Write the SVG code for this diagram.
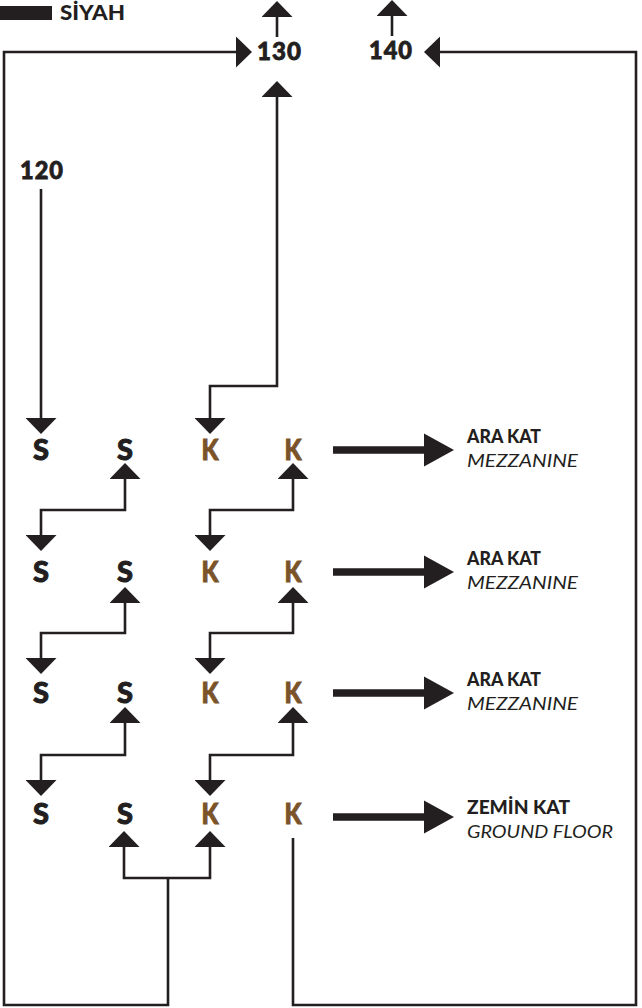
<svg xmlns="http://www.w3.org/2000/svg" xmlns:xlink="http://www.w3.org/1999/xlink" width="642" height="1008" viewBox="0 0 642 1008">
  <style>
    .ln { fill: none; stroke: #231f20; stroke-width: 2.6; stroke-linejoin: miter; }
    .num { font-family: Lato, "Open Sans", sans-serif; font-weight: 900; font-size: 24px; letter-spacing: 1px; fill: #231f20; stroke: #231f20; stroke-width: 0.8; }
    .s { font-family: Lato, "Open Sans", sans-serif; font-weight: 900; font-size: 28px; fill: #231f20; stroke: #231f20; stroke-width: 0.9; text-anchor: middle; }
    .k { font-family: Lato, "Open Sans", sans-serif; font-weight: 900; font-size: 28px; fill: #7b5329; stroke: #7b5329; stroke-width: 0.9; text-anchor: middle; }
    .tr { font-family: Lato, "Open Sans", sans-serif; font-weight: 900; font-size: 18px; fill: #231f20; }
    .en { font-family: Lato, "Open Sans", sans-serif; font-weight: 400; font-style: italic; font-size: 18px; fill: #231f20; }
  </style>
  <defs>
    <!-- small solid arrowhead, placed at the end of a line (base on the line end) -->
    <marker id="head" viewBox="0 0 16 31" refX="0" refY="15.5" markerWidth="16" markerHeight="31" markerUnits="userSpaceOnUse" orient="auto-start-reverse">
      <path d="M0,0 L16,15.5 L0,31 Z" fill="#231f20"/>
    </marker>
    <!-- thick level arrow -->
    <path id="bigArrow" d="M0,-3.8 H91 V-16.5 L121,0 L91,16.5 V3.8 H0 Z" fill="#231f20"/>
  </defs>

  <!-- legend -->
  <g id="legend">
    <rect x="0" y="6" width="52" height="14" fill="#231f20"/>
    <text x="60" y="20" class="tr" style="font-size:20px" textLength="65" lengthAdjust="spacingAndGlyphs">SİYAH</text>
  </g>

  <!-- connectors -->
  <g id="connectors">
    <!-- outer loops -->
    <path class="ln" d="M168,878 V1005 H4 V52 H236" marker-end="url(#head)"/>
    <path class="ln" d="M124,847 V878 H210 V847" marker-start="url(#head)" marker-end="url(#head)"/>
    <path class="ln" d="M293,838 V1005 H636 V52 H440" marker-end="url(#head)"/>
    <!-- exits above 130 / 140 -->
    <path class="ln" d="M277,37 V17" marker-end="url(#head)"/>
    <path class="ln" d="M392,36 V16" marker-end="url(#head)"/>
    <!-- 130 to top K -->
    <path class="ln" d="M277,97 V386 H210 V418" marker-start="url(#head)" marker-end="url(#head)"/>
    <!-- 120 to top S -->
    <path class="ln" d="M41,189 V418" marker-end="url(#head)"/>
    <!-- between levels -->
    <path class="ln" d="M125,479 V510 H41 V535" marker-start="url(#head)" marker-end="url(#head)"/>
    <path class="ln" d="M293,479 V510 H210 V535" marker-start="url(#head)" marker-end="url(#head)"/>
    <path class="ln" d="M125,603 V633 H41 V658" marker-start="url(#head)" marker-end="url(#head)"/>
    <path class="ln" d="M293,603 V633 H210 V658" marker-start="url(#head)" marker-end="url(#head)"/>
    <path class="ln" d="M125,723 V755 H41 V780" marker-start="url(#head)" marker-end="url(#head)"/>
    <path class="ln" d="M293,723 V755 H210 V780" marker-start="url(#head)" marker-end="url(#head)"/>
    <!-- level arrows -->
    <use xlink:href="#bigArrow" x="333" y="450"/>
    <use xlink:href="#bigArrow" x="333" y="572"/>
    <use xlink:href="#bigArrow" x="333" y="693"/>
    <use xlink:href="#bigArrow" x="333" y="817"/>
  </g>

  <!-- numbered exits -->
  <g id="n120"><text x="20" y="179" class="num" textLength="44" lengthAdjust="spacingAndGlyphs">120</text></g>
  <g id="n130"><text x="257" y="60" class="num" textLength="45" lengthAdjust="spacingAndGlyphs">130</text></g>
  <g id="n140"><text x="369" y="59" class="num" textLength="44" lengthAdjust="spacingAndGlyphs">140</text></g>

  <!-- level 1 -->
  <g id="row1">
    <text x="41" y="460" class="s" textLength="16" lengthAdjust="spacingAndGlyphs">S</text>
    <text x="125" y="460" class="s" textLength="16" lengthAdjust="spacingAndGlyphs">S</text>
    <text x="210" y="460" class="k" textLength="17" lengthAdjust="spacingAndGlyphs">K</text>
    <text x="293" y="460" class="k" textLength="17" lengthAdjust="spacingAndGlyphs">K</text>
  </g>
  <g id="label1">
    <text x="467" y="443" class="tr" textLength="74" lengthAdjust="spacingAndGlyphs">ARA KAT</text>
    <text x="467" y="467" class="en" textLength="111" lengthAdjust="spacingAndGlyphs">MEZZANINE</text>
  </g>

  <!-- level 2 -->
  <g id="row2">
    <text x="41" y="582" class="s" textLength="16" lengthAdjust="spacingAndGlyphs">S</text>
    <text x="125" y="582" class="s" textLength="16" lengthAdjust="spacingAndGlyphs">S</text>
    <text x="210" y="582" class="k" textLength="17" lengthAdjust="spacingAndGlyphs">K</text>
    <text x="293" y="582" class="k" textLength="17" lengthAdjust="spacingAndGlyphs">K</text>
  </g>
  <g id="label2">
    <text x="467" y="565" class="tr" textLength="74" lengthAdjust="spacingAndGlyphs">ARA KAT</text>
    <text x="467" y="589" class="en" textLength="111" lengthAdjust="spacingAndGlyphs">MEZZANINE</text>
  </g>

  <!-- level 3 -->
  <g id="row3">
    <text x="41" y="703" class="s" textLength="16" lengthAdjust="spacingAndGlyphs">S</text>
    <text x="125" y="703" class="s" textLength="16" lengthAdjust="spacingAndGlyphs">S</text>
    <text x="210" y="703" class="k" textLength="17" lengthAdjust="spacingAndGlyphs">K</text>
    <text x="293" y="703" class="k" textLength="17" lengthAdjust="spacingAndGlyphs">K</text>
  </g>
  <g id="label3">
    <text x="467" y="686" class="tr" textLength="74" lengthAdjust="spacingAndGlyphs">ARA KAT</text>
    <text x="467" y="710" class="en" textLength="111" lengthAdjust="spacingAndGlyphs">MEZZANINE</text>
  </g>

  <!-- ground level -->
  <g id="row4">
    <text x="41" y="824" class="s" textLength="16" lengthAdjust="spacingAndGlyphs">S</text>
    <text x="125" y="824" class="s" textLength="16" lengthAdjust="spacingAndGlyphs">S</text>
    <text x="210" y="824" class="k" textLength="17" lengthAdjust="spacingAndGlyphs">K</text>
    <text x="293" y="824" class="k" textLength="17" lengthAdjust="spacingAndGlyphs">K</text>
  </g>
  <g id="label4">
    <text x="467" y="814" class="tr" textLength="103" lengthAdjust="spacingAndGlyphs">ZEMİN KAT</text>
    <text x="467" y="838" class="en" textLength="146" lengthAdjust="spacingAndGlyphs">GROUND FLOOR</text>
  </g>
</svg>
